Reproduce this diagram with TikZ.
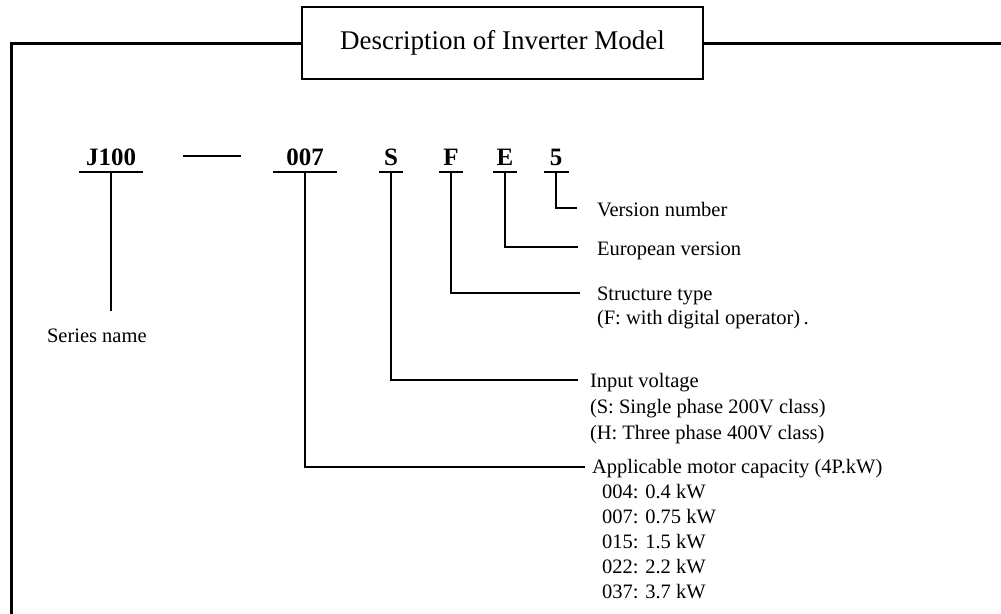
\documentclass[tikz,border=0pt]{standalone}
\usepackage{fontspec}
\setmainfont{Liberation Serif}
\begin{document}
\begin{tikzpicture}[x=1pt,y=-1pt,
  every node/.style={inner sep=0pt, outer sep=0pt},
  code/.style={font=\fontsize{25}{28}\selectfont\bfseries, anchor=base, text depth=0pt, inner ysep=7pt},
  lab/.style={font=\fontsize{20.5}{25}\selectfont, anchor=base west},
  conn/.style={line width=1.8pt},
  under/.style={line width=2pt},
  frame/.style={line width=3pt}]
\useasboundingbox (0,0) rectangle (1001,613);
% title box and frame
\node[draw, line width=2.6pt, minimum width=401, minimum height=72,
      font=\fontsize{27}{31}\selectfont] (title) at (502.5,43) {Description of Inverter Model};
\coordinate (tl) at (11,43);
\coordinate (bl) at (11,614);
\coordinate (tr) at (1002,43);
\draw[frame] (title.west) -- (tl) -- (bl);
\draw[frame] (title.east) -- (tr);
% code row
\node[code, minimum width=64] (cJ) at (111,165) {J100};
\node[code, minimum width=64] (c007) at (305,165) {007};
\node[code, minimum width=24] (cS) at (391,165) {S};
\node[code, minimum width=24] (cF) at (451,165) {F};
\node[code, minimum width=24] (cE) at (505,165) {E};
\node[code, minimum width=25] (c5) at (556,165) {5};
\coordinate (d1) at (183,156);
\coordinate (d2) at (241,156);
\draw[line width=2.5pt] (d1) -- (d2);
\foreach \n in {cJ,c007,cS,cF,cE,c5} \draw[under] (\n.south west) -- (\n.south east);
% labels
\node[lab] (series) at (47,342) {Series name};
\node[lab] (vn) at (597,216) {Version number};
\node[lab] (ev) at (597,255) {European version};
\node[lab] (st) at (597,300) {Structure type};
\node[lab] (st2) at (597,324) {(F: with digital operator)\,.};
\node[lab] (iv) at (590,387) {Input voltage};
\node[lab] (iv2) at (590,413) {(S: Single phase 200V class)};
\node[lab] (iv3) at (590,439) {(H: Three phase 400V class)};
\node[lab] (ap) at (592,473) {Applicable motor capacity (4P.kW)};
\node[lab] (k1) at (602,498) {004: 0.4 kW};
\node[lab] (k2) at (602,523) {007: 0.75 kW};
\node[lab] (k3) at (602,548) {015: 1.5 kW};
\node[lab] (k4) at (602,573) {022: 2.2 kW};
\node[lab] (k5) at (602,598) {037: 3.7 kW};
% connectors
\coordinate (eJ) at (111,311);
\coordinate (e5) at (577,208);
\coordinate (eE) at (578,247);
\coordinate (eF) at (580,293);
\coordinate (eS) at (578,380);
\coordinate (e007) at (585,467);
\draw[conn] (cJ.south) -- (eJ);
\draw[conn] (c5.south) |- (e5);
\draw[conn] (cE.south) |- (eE);
\draw[conn] (cF.south) |- (eF);
\draw[conn] (cS.south) |- (eS);
\draw[conn] (c007.south) |- (e007);
\end{tikzpicture}
\end{document}
